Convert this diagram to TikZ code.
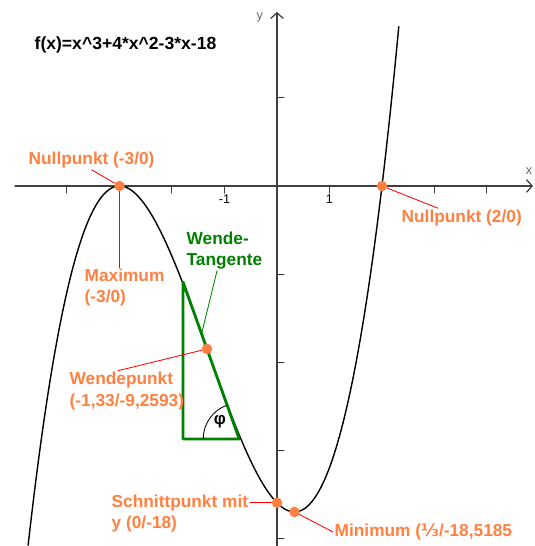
\documentclass[tikz,border=0pt]{standalone}
\usepackage{fontspec}
\setmainfont{Liberation Sans}
\newfontfamily\dejavu{DejaVu Sans}
\usetikzlibrary{arrows.meta,calc}
\definecolor{punktfarbe}{RGB}{255,128,64}
\definecolor{wendegruen}{RGB}{0,128,0}

\begin{document}
\begin{tikzpicture}[x=1.3125cm, y=0.44cm, line cap=round, line join=round,
    >={Straight Barb[length=4pt,width=9pt]},
    achse/.style={line width=0.9pt, black!75},
    punkt/.style={circle, fill=punktfarbe, inner sep=0pt, minimum size=7.5pt},
    beschriftung/.style={font=\fontsize{12.3}{15}\selectfont\bfseries, text=punktfarbe, align=left, inner sep=1pt},
    zeiger/.style={red, line width=0.6pt},
    gruen/.style={wendegruen, line width=2pt}]
  \useasboundingbox (-5.276,-20.455) rectangle (4.914,10.568);
  \draw[achse,->] (-4.99,0) -- (4.876,0);
  \draw[achse,->] (0,-20.6) -- (0,9.886);
  \node[font=\small, text=black!60] (xname) at (4.8,0.85) {x};
  \node[font=\small, text=black!60] (yname) at (-0.33,9.55) {y};
  \foreach \x in {-4,-3,-2,2,3,4} \draw[achse,line width=0.7pt] (\x,0) -- ++(0,-5pt);
  \foreach \x in {-1,1} \draw[achse,line width=0.7pt] (\x,0) -- ++(0,-5pt) node[below,inner sep=1pt,text=black,font=\fontsize{9}{10}\selectfont] (tick\x) {\x};
  \foreach \y in {5,-5,-10,-15,-20} \draw[achse,line width=0.7pt] (0,\y) -- ++(5pt,0);
  \node[font=\fontsize{12.5}{15}\selectfont\bfseries, anchor=west, inner sep=1pt] (formel) at (-4.648,8.011) {f(x)=x\textasciicircum3+4*x\textasciicircum2-3*x-18};
  \draw[line width=1pt] plot[domain=-4.74:2.32, samples=200] ({\x},{(\x)*(\x)*(\x)+4*(\x)*(\x)-3*(\x)-18});
  \coordinate (tA) at (-1.79,-5.4537);
  \coordinate (tB) at (-0.71945,-14.375);
  \coordinate (tC) at (-1.79,-14.375);
  \coordinate (wtZ) at ($(tA)!0.33!(tB)$);
  \draw[gruen] (tA) -- (tC) -- (tB) -- cycle;
  \draw[line width=0.6pt] ([shift={(180:0.9cm)}]tB) arc[start angle=180, end angle=110, radius=0.9cm];
  \node[font=\fontsize{12}{14}\selectfont\bfseries] (phi) at (-1.086,-13.41) {φ};
  \node[punkt] (nlP) at (-3,0) {};
  \node[punkt] (nrP) at (2,0) {};
  \node[punkt] (wpP) at (-4/3,-9.2593) {};
  \node[punkt] (spP) at (0,-18) {};
  \node[punkt] (minP) at (1/3,-18.5185) {};
  \node[beschriftung, anchor=west] (nl) at (-4.762,1.477) {Nullpunkt (-3/0)};
  \node[beschriftung, anchor=west] (nr) at (2.343,-1.818) {Nullpunkt (2/0)};
  \node[beschriftung, anchor=west] (max) at (-3.695,-5.795) {Maximum\\(-3/0)};
  \node[beschriftung, anchor=west, text=wendegruen] (wt) at (-1.752,-3.665) {Wende-\\Tangente};
  \node[beschriftung, anchor=west] (wp) at (-3.981,-11.648) {Wendepunkt\\(-1,33/-9,2593)};
  \node[beschriftung, anchor=west] (sp) at (-3.181,-18.608) {Schnittpunkt mit\\y (0/-18)};
  \node[beschriftung, anchor=west] (min) at (1.067,-19.659) {Minimum ({\dejavu ⅓}/-18,5185};
  \draw[zeiger] (nl.south) -- (nlP);
  \draw[zeiger] (nlP) -- (nlP |- max.north);
  \draw[zeiger] (nrP) -- ([xshift=0.95cm]nr.north west);
  \draw[wendegruen, line width=0.6pt] ([xshift=0.8cm]wt.south west) -- (wtZ);
  \draw[zeiger] ([xshift=1.25cm]wp.north west) -- (wpP);
  \draw[zeiger] (sp.east |- spP) -- (spP);
  \draw[zeiger] (min.west) -- (minP);
\end{tikzpicture}
\end{document}
